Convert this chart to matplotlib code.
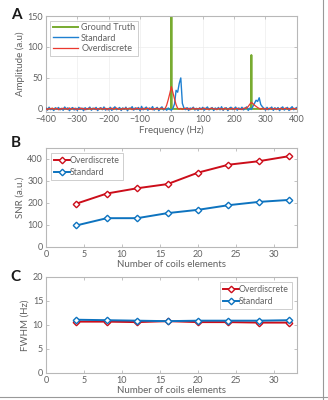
import numpy as np
import matplotlib
matplotlib.use("Agg")
import matplotlib.pyplot as plt
from matplotlib.lines import Line2D

plt.rcParams['font.family'] = ['Lato', 'DejaVu Sans']

# ---- panel A data: spectra (5 Hz steps, -400..400 Hz)
freq = np.arange(-400, 401, 5)

gt_freq = [-400, -1, 0, 1, 254, 255, 256, 400]
gt_amp = [0, 0, 300, 0, 0, 87, 0, 0]

std_amp = [
    1.5, -2.0, 2.8, -1.2, 0.6, -2.7, 1.9, -0.8, 2.4, -1.6,
    0.9, -2.3, 3.1, -0.5, 1.7, -2.9, 0.4, 2.2, -1.8, 1.1,
    -2.5, 2.6, -0.9, 1.4, -3.0, 2.0, -1.1, 0.7, 2.9, -2.2,
    1.3, -0.6, 2.5, -2.8, 0.8, 1.9, -1.4, 3.2, -2.0, 0.5,
    -1.7, 2.7, -2.4, 1.0, 3.4, -1.3, 0.2, 2.3, -2.6, 1.6,
    -0.7, 2.9, -3.1, 1.2, 0.4, 3.6, -2.1, 1.8, -1.0, 2.4,
    -2.8, 4.1, -1.5, 0.9, 3.0, -2.4, 1.5, -0.3, 3.8, -2.0,
    0.6, 2.5, -2.9, 1.1, 3.3, -1.8, 0.7, -2.2, 1.4, -1.0,
    -2.0, 1.0, 8.0, 30.0, 27.0, 41.0, 50.0, 9.0, 1.5, -1.2,
    2.1, -2.6, 1.3, 0.2, 2.8, -1.9, 0.9, -2.4, 1.7, -0.4,
    2.6, -2.1, 1.0, 3.1, -1.6, 0.3, 2.2, -2.7, 1.5, -0.8,
    2.4, -1.5, 3.5, -2.3, 0.8, 1.9, -2.8, 1.2, 2.7, -1.1,
    0.5, 3.0, -2.2, 1.6, -0.9, 2.8, -1.7, 1.0, 3.3, -2.5,
    1.2, -1.0, 4.0, 9.0, 14.0, 12.0, 18.0, 7.0, 3.5, 1.0,
    -2.0, 2.6, -1.3, 0.7, 3.0, -2.4, 1.8, -0.6, 2.2, -2.9,
    1.4, 3.2, -1.9, 0.5, 2.5, -2.6, 1.1, 3.6, -1.4, 0.8, 2.3,
]

ovd_amp = [
    0.6, -1.2, 0.9, -0.4, 1.3, -0.9, 0.2, 1.1, -1.4, 0.5,
    -0.7, 1.2, -0.3, 0.8, -1.1, 1.5, -0.6, 0.3, 1.0, -1.3,
    0.4, -0.8, 1.4, -0.2, 0.9, -1.5, 0.7, -0.4, 1.2, -0.9,
    0.3, 1.1, -1.2, 0.6, -0.5, 1.3, -0.8, 0.2, 1.0, -1.4,
    0.8, -0.3, 1.2, -1.0, 0.5, 1.4, -0.7, 0.1, -1.2, 0.9,
    -0.4, 1.3, -0.9, 0.6, 1.1, -1.3, 0.4, -0.6, 1.5, -0.2,
    0.7, -1.1, 1.0, -0.5, 0.3, 1.2, -0.8, 0.9, -1.3, 0.5,
    -0.2, 1.1, -0.7, 0.4, 1.3, -0.9, 0.5, 6.0, 15.0, 25.0,
    36.0, 26.0, 16.0, 7.0, 1.0, -0.5, 0.8, -1.0, 0.4, 1.2,
    -0.6, 0.9, -1.2, 0.3, 1.4, -0.8, 0.5, -0.3, 1.1, -1.0,
    0.6, 1.3, -0.7, 0.2, -1.1, 0.9, 1.2, -0.5, 0.4, -1.3,
    1.0, -0.2, 0.7, -1.4, 1.3, 0.1, -0.9, 0.8, -0.4, 1.2,
    -1.1, 0.5, 1.0, -0.6, 0.3, -1.2, 0.9, 1.4, 1.0, 4.0,
    7.5, 10.5, 8.5, 6.0, 4.0, 2.2, 0.6, -0.8, 1.1, -0.4,
    0.9, -1.2, 0.5, 1.3, -0.7, 0.2, 1.0, -1.1, 0.6, -0.3,
    1.2, -0.9, 0.4, 1.4, -0.6, 0.8, -1.3, 0.3, 1.1, -0.5, 0.7,
]

# ---- panels B and C
coils = [4, 8, 12, 16, 20, 24, 28, 32]
snr_ovd = [197, 243, 267, 286, 338, 374, 390, 413]
snr_std = [98, 131, 131, 154, 169, 190, 205, 214]
fwhm_ovd = [10.7, 10.7, 10.6, 10.8, 10.6, 10.6, 10.5, 10.5]
fwhm_std = [11.1, 11.0, 10.9, 10.8, 10.9, 10.9, 10.9, 11.0]

green = (0.47, 0.67, 0.19)
cyan = (0.12, 0.50, 0.82)
red_light = (0.92, 0.22, 0.18)
red = (0.80, 0.05, 0.10)
blue = (0.05, 0.45, 0.75)
txt = (0.38, 0.38, 0.38)
edge = (0.72, 0.72, 0.72)


def style(ax):
    for s in ax.spines.values():
        s.set_color(edge)
        s.set_linewidth(0.8)
    ax.tick_params(direction='in', length=2.5, width=0.6, color=edge,
                   labelsize=6.5, labelcolor=txt, top=True, right=True, pad=2)


fig = plt.figure(figsize=(3.28, 4.0), dpi=100)

# A
axA = fig.add_axes([0.140, 0.72, 0.765, 0.24])
axA.plot(gt_freq, gt_amp, color=green, lw=1.4, label='Ground Truth', zorder=2)
axA.plot(freq, std_amp, color=cyan, lw=1.0, label='Standard', zorder=3)
axA.plot(freq, ovd_amp, color=red_light, lw=0.9, label='Overdiscrete', zorder=4)
axA.set_xlim(-400, 400)
axA.set_ylim(-5, 150)
axA.set_xticks(range(-400, 401, 100))
axA.set_yticks([0, 50, 100, 150])
axA.grid(True, color=(0.93, 0.93, 0.93), lw=0.5)
axA.set_xlabel('Frequency (Hz)', fontsize=7, color=txt, labelpad=1)
axA.set_ylabel('Amplitude (a.u)', fontsize=7, color=txt, labelpad=2)
style(axA)
legA = axA.legend(loc='upper left', fontsize=6.5, frameon=True, fancybox=False,
                  handlelength=2.8, handletextpad=0.3, borderpad=0.3,
                  labelspacing=0.15, borderaxespad=0.5)
legA.get_frame().set_edgecolor(edge)
legA.get_frame().set_linewidth(0.6)
for t in legA.get_texts():
    t.set_color(txt)

# B
axB = fig.add_axes([0.140, 0.3825, 0.765, 0.2475])
axB.plot(coils, snr_ovd, color=red, lw=1.4, marker='D', ms=3.3, mfc='white',
         mec=red, mew=1.0, label='Overdiscrete')
axB.plot(coils, snr_std, color=blue, lw=1.4, marker='D', ms=3.3, mfc='white',
         mec=blue, mew=1.0, label='Standard')
axB.set_xlim(0, 33)
axB.set_ylim(0, 450)
axB.set_xticks([0, 5, 10, 15, 20, 25, 30])
axB.set_yticks([0, 100, 200, 300, 400])
axB.set_xlabel('Number of coils elements', fontsize=7, color=txt, labelpad=1)
axB.set_ylabel('SNR (a.u.)', fontsize=7, color=txt, labelpad=2)
style(axB)
legB = axB.legend(loc='upper left', fontsize=6.3, frameon=True, fancybox=False,
                  handlelength=1.8, handletextpad=0.0, borderpad=0.35,
                  labelspacing=0.3, borderaxespad=0.6)
legB.get_frame().set_edgecolor(edge)
legB.get_frame().set_linewidth(0.6)
for t in legB.get_texts():
    t.set_color(txt)

# C
axC = fig.add_axes([0.140, 0.0675, 0.765, 0.24])
axC.plot(coils, fwhm_ovd, color=red, lw=1.4, marker='D', ms=3.3, mfc='white',
         mec=red, mew=1.0, label='Overdiscrete')
axC.plot(coils, fwhm_std, color=blue, lw=1.4, marker='D', ms=3.3, mfc='white',
         mec=blue, mew=1.0, label='Standard')
axC.set_xlim(0, 33)
axC.set_ylim(0, 20)
axC.set_xticks([0, 5, 10, 15, 20, 25, 30])
axC.set_yticks([0, 5, 10, 15, 20])
axC.set_xlabel('Number of coils elements', fontsize=7, color=txt, labelpad=1)
axC.set_ylabel('FWHM (Hz)', fontsize=7, color=txt, labelpad=2)
style(axC)
legC = axC.legend(loc='upper right', fontsize=6.3, frameon=True, fancybox=False,
                  handlelength=1.8, handletextpad=0.0, borderpad=0.35,
                  labelspacing=0.3, borderaxespad=0.6)
legC.get_frame().set_edgecolor(edge)
legC.get_frame().set_linewidth(0.6)
for t in legC.get_texts():
    t.set_color(txt)

# panel letters
fig.text(0.033, 0.962, 'A', fontsize=11, fontweight='bold', color=(0.1, 0.1, 0.1), va='center')
fig.text(0.033, 0.642, 'B', fontsize=11, fontweight='bold', color=(0.1, 0.1, 0.1), va='center')
fig.text(0.033, 0.307, 'C', fontsize=11, fontweight='bold', color=(0.1, 0.1, 0.1), va='center')

# figure border (right and bottom)
fig.add_artist(Line2D([0.985, 0.985], [0.0, 1.0], transform=fig.transFigure,
                      color=(0.6, 0.6, 0.6), lw=0.8))
fig.add_artist(Line2D([0.0, 1.0], [0.008, 0.008], transform=fig.transFigure,
                      color=(0.6, 0.6, 0.6), lw=0.8))

fig.savefig('out.png', dpi=100)
